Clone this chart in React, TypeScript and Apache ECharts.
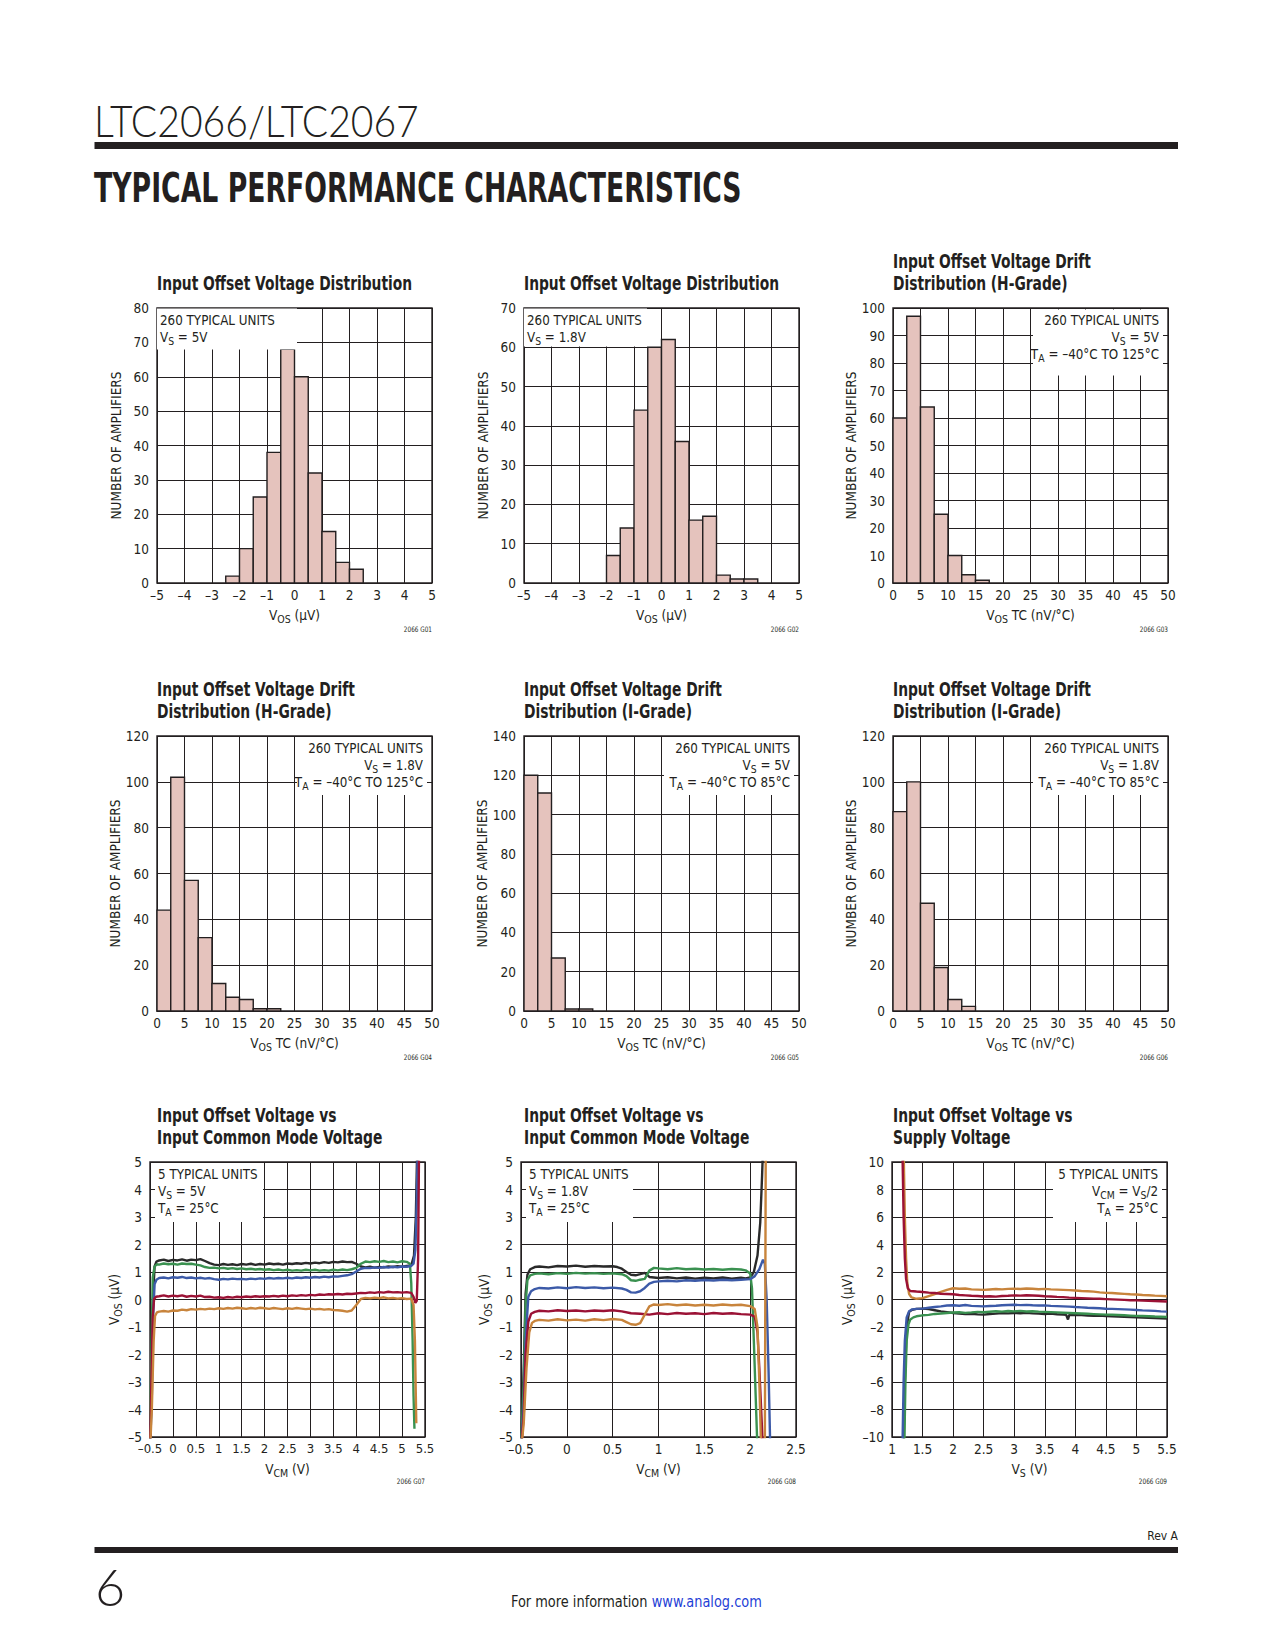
import React, { useEffect, useRef } from "react";
import * as echarts from "echarts";

// ---------------- data ----------------
// histogram bins (edges) and counts
const g01Edges = [-2.5, -2, -1.5, -1, -0.5, 0, 0.5, 1, 1.5, 2, 2.5];
const g01Counts = [2, 10, 25, 38, 68, 60, 32, 15, 6, 4];
const g02Edges = [-2, -1.5, -1, -0.5, 0, 0.5, 1, 1.5, 2, 2.5, 3, 3.5];
const g02Counts = [7, 14, 44, 60, 62, 36, 16, 17, 2, 1, 1];
const g03Edges = [0, 2.5, 5, 7.5, 10, 12.5, 15, 17.5];
const g03Counts = [60, 97, 64, 25, 10, 3, 1];
const g04Edges = [0, 2.5, 5, 7.5, 10, 12.5, 15, 17.5, 20, 22.5];
const g04Counts = [44, 102, 57, 32, 12, 6, 5, 1, 1];
const g05Edges = [0, 2.5, 5, 7.5, 10, 12.5];
const g05Counts = [120, 111, 27, 1, 1];
const g06Edges = [0, 2.5, 5, 7.5, 10, 12.5, 15];
const g06Counts = [87, 100, 47, 19, 5, 2];

// tick labels
const vosXTicks = [-5, -4, -3, -2, -1, 0, 1, 2, 3, 4, 5];
const g01YTicks = [0, 10, 20, 30, 40, 50, 60, 70, 80];
const g02YTicks = [0, 10, 20, 30, 40, 50, 60, 70];
const tcXTicks = [0, 5, 10, 15, 20, 25, 30, 35, 40, 45, 50];
const g03YTicks = [0, 10, 20, 30, 40, 50, 60, 70, 80, 90, 100];
const g04YTicks = [0, 20, 40, 60, 80, 100, 120];
const g05YTicks = [0, 20, 40, 60, 80, 100, 120, 140];
const g06YTicks = [0, 20, 40, 60, 80, 100, 120];
const vcm5XTicks = [-0.5, 0, 0.5, 1, 1.5, 2, 2.5, 3, 3.5, 4, 4.5, 5, 5.5];
const vcm18XTicks = [-0.5, 0, 0.5, 1, 1.5, 2, 2.5];
const vosYTicks = [-5, -4, -3, -2, -1, 0, 1, 2, 3, 4, 5];
const vsXTicks = [1, 1.5, 2, 2.5, 3, 3.5, 4, 4.5, 5, 5.5];
const g09YTicks = [-10, -8, -6, -4, -2, 0, 2, 4, 6, 8, 10];

// G07: VOS vs VCM, VS = 5V
const g07Black = [[-0.5,-5.5],[-0.46,-3],[-0.43,0.2],[-0.4,1.2],[-0.36,1.38],[-0.3,1.42],[-0.2,1.45],[-0.1,1.4],[0,1.44],[0.1,1.42],[0.2,1.46],[0.3,1.41],[0.4,1.45],[0.5,1.43],[0.6,1.47],[0.7,1.4],[0.8,1.32],[0.9,1.27],[1,1.25],[1.1,1.29],[1.2,1.26],[1.3,1.28],[1.4,1.25],[1.5,1.29],[1.6,1.27],[1.7,1.3],[1.8,1.26],[1.9,1.29],[2,1.27],[2.1,1.31],[2.2,1.28],[2.3,1.3],[2.4,1.27],[2.5,1.31],[2.6,1.29],[2.7,1.32],[2.8,1.3],[2.9,1.33],[3,1.31],[3.1,1.34],[3.2,1.32],[3.3,1.36],[3.4,1.33],[3.5,1.37],[3.6,1.35],[3.7,1.38],[3.8,1.36],[3.9,1.37],[4,1.3],[4.1,1.2],[4.2,1.17],[4.3,1.19],[4.4,1.16],[4.5,1.18],[4.6,1.17],[4.7,1.2],[4.8,1.18],[4.9,1.21],[5,1.19],[5.1,1.22],[5.2,1.24],[5.26,1.6],[5.3,3],[5.33,5.5]];
const g07Green = [[-0.5,-5.5],[-0.47,-2],[-0.44,0.8],[-0.4,1.2],[-0.35,1.28],[-0.3,1.27],[-0.2,1.31],[-0.1,1.28],[0,1.3],[0.1,1.27],[0.2,1.31],[0.3,1.29],[0.4,1.3],[0.5,1.27],[0.6,1.24],[0.7,1.18],[0.8,1.15],[0.9,1.16],[1,1.13],[1.1,1.15],[1.2,1.12],[1.3,1.14],[1.4,1.11],[1.5,1.13],[1.6,1.1],[1.7,1.12],[1.8,1.09],[1.9,1.11],[2,1.08],[2.1,1.1],[2.2,1.07],[2.3,1.09],[2.4,1.06],[2.5,1.08],[2.6,1.05],[2.7,1.07],[2.8,1.05],[2.9,1.08],[3,1.06],[3.1,1.08],[3.2,1.05],[3.3,1.07],[3.4,1.05],[3.5,1.08],[3.6,1.06],[3.7,1.09],[3.8,1.07],[3.9,1.1],[4,1.15],[4.1,1.3],[4.2,1.38],[4.3,1.36],[4.4,1.39],[4.5,1.37],[4.6,1.4],[4.7,1.36],[4.8,1.38],[4.9,1.35],[5,1.39],[5.1,1.37],[5.17,1.3],[5.2,0.6],[5.23,-1.5],[5.25,-3.5],[5.27,-4.7]];
const g07Blue = [[-0.5,-5.5],[-0.46,-3.5],[-0.43,-0.5],[-0.4,0.55],[-0.36,0.72],[-0.3,0.78],[-0.2,0.8],[-0.1,0.77],[0,0.81],[0.1,0.79],[0.2,0.82],[0.3,0.78],[0.4,0.8],[0.5,0.77],[0.6,0.79],[0.7,0.76],[0.8,0.78],[0.9,0.74],[1,0.72],[1.1,0.75],[1.2,0.73],[1.3,0.76],[1.4,0.74],[1.5,0.75],[1.6,0.73],[1.7,0.76],[1.8,0.74],[1.9,0.77],[2,0.75],[2.1,0.78],[2.2,0.76],[2.3,0.78],[2.4,0.77],[2.5,0.79],[2.6,0.77],[2.7,0.8],[2.8,0.78],[2.9,0.81],[3,0.79],[3.1,0.82],[3.2,0.8],[3.3,0.83],[3.4,0.81],[3.5,0.84],[3.6,0.83],[3.7,0.86],[3.8,0.88],[3.9,0.92],[4,1.02],[4.1,1.12],[4.2,1.15],[4.3,1.14],[4.4,1.17],[4.5,1.15],[4.6,1.18],[4.7,1.16],[4.8,1.19],[4.9,1.17],[5,1.2],[5.1,1.19],[5.2,1.22],[5.25,1.3],[5.29,1.8],[5.32,3.5],[5.34,5.5]];
const g07Red = [[-0.5,-5.5],[-0.47,-3],[-0.44,-0.6],[-0.41,0.02],[-0.37,0.1],[-0.3,0.12],[-0.2,0.15],[-0.1,0.11],[0,0.14],[0.1,0.12],[0.2,0.15],[0.3,0.1],[0.4,0.13],[0.5,0.11],[0.6,0.14],[0.7,0.09],[0.8,0.1],[0.9,0.07],[1,0.08],[1.1,0.06],[1.2,0.09],[1.3,0.07],[1.4,0.1],[1.5,0.08],[1.6,0.11],[1.7,0.09],[1.8,0.12],[1.9,0.1],[2,0.12],[2.1,0.11],[2.2,0.13],[2.3,0.11],[2.4,0.14],[2.5,0.12],[2.6,0.15],[2.7,0.13],[2.8,0.16],[2.9,0.14],[3,0.17],[3.1,0.15],[3.2,0.18],[3.3,0.17],[3.4,0.19],[3.5,0.18],[3.6,0.2],[3.7,0.18],[3.8,0.21],[3.9,0.2],[4,0.22],[4.1,0.24],[4.2,0.23],[4.3,0.26],[4.4,0.24],[4.5,0.27],[4.6,0.25],[4.7,0.28],[4.8,0.26],[4.9,0.27],[5,0.25],[5.1,0.27],[5.2,0.24],[5.25,0.1],[5.29,-0.12],[5.32,-0.05],[5.35,1.5],[5.37,5.5]];
const g07Orange = [[-0.5,-5.5],[-0.46,-4],[-0.42,-1.5],[-0.39,-0.6],[-0.35,-0.47],[-0.3,-0.44],[-0.2,-0.42],[-0.1,-0.44],[0,-0.4],[0.1,-0.41],[0.2,-0.37],[0.3,-0.39],[0.4,-0.35],[0.5,-0.37],[0.6,-0.34],[0.7,-0.36],[0.8,-0.33],[0.9,-0.35],[1,-0.32],[1.1,-0.34],[1.2,-0.31],[1.3,-0.33],[1.4,-0.3],[1.5,-0.32],[1.6,-0.34],[1.7,-0.31],[1.8,-0.33],[1.9,-0.3],[2,-0.32],[2.1,-0.34],[2.2,-0.31],[2.3,-0.33],[2.4,-0.35],[2.5,-0.32],[2.6,-0.34],[2.7,-0.31],[2.8,-0.33],[2.9,-0.35],[3,-0.33],[3.1,-0.36],[3.2,-0.34],[3.3,-0.37],[3.4,-0.35],[3.5,-0.38],[3.6,-0.39],[3.7,-0.41],[3.8,-0.44],[3.9,-0.4],[4,-0.2],[4.1,0.02],[4.2,0.06],[4.3,0.04],[4.4,0.07],[4.5,0.05],[4.6,0.08],[4.7,0.04],[4.8,0.06],[4.9,0.03],[5,0.05],[5.1,0.02],[5.2,0.03],[5.25,-0.2],[5.28,-1.5],[5.3,-3.5],[5.31,-4.5]];

// G08: VOS vs VCM, VS = 1.8V
const g08Black = [[-0.5,-5.5],[-0.47,-2.5],[-0.45,0.2],[-0.43,0.9],[-0.4,1.1],[-0.35,1.18],[-0.3,1.2],[-0.2,1.17],[-0.1,1.22],[0,1.2],[0.1,1.23],[0.2,1.19],[0.3,1.22],[0.4,1.2],[0.5,1.21],[0.55,1.18],[0.6,1.12],[0.65,1],[0.7,0.9],[0.75,0.88],[0.8,0.92],[0.85,0.97],[0.9,0.82],[0.95,0.8],[1,0.78],[1.1,0.81],[1.2,0.77],[1.3,0.8],[1.4,0.76],[1.5,0.79],[1.6,0.77],[1.7,0.8],[1.8,0.76],[1.9,0.79],[1.95,0.77],[2,0.8],[2.04,1],[2.08,1.6],[2.11,2.8],[2.13,4.5],[2.14,5.5]];
const g08Green = [[-0.5,-5.5],[-0.47,-3],[-0.45,-0.2],[-0.43,0.7],[-0.4,0.88],[-0.35,0.93],[-0.3,0.95],[-0.2,0.92],[-0.1,0.96],[0,0.93],[0.1,0.97],[0.2,0.94],[0.3,0.96],[0.4,0.93],[0.5,0.95],[0.6,0.92],[0.65,0.85],[0.7,0.7],[0.75,0.68],[0.8,0.72],[0.85,0.75],[0.9,1.05],[0.95,1.15],[1,1.13],[1.1,1.1],[1.2,1.14],[1.3,1.1],[1.4,1.12],[1.5,1.09],[1.6,1.11],[1.7,1.08],[1.8,1.11],[1.9,1.09],[1.95,1.06],[2,0.95],[2.02,0.4],[2.04,-1.5],[2.06,-3.5],[2.08,-5.5]];
const g08Blue = [[-0.5,-5.5],[-0.47,-3.8],[-0.45,-1.5],[-0.42,0.1],[-0.39,0.3],[-0.35,0.38],[-0.3,0.42],[-0.2,0.4],[-0.1,0.44],[0,0.41],[0.1,0.45],[0.2,0.42],[0.3,0.44],[0.4,0.41],[0.5,0.43],[0.6,0.4],[0.65,0.35],[0.7,0.26],[0.75,0.25],[0.8,0.3],[0.85,0.42],[0.9,0.58],[0.95,0.64],[1,0.66],[1.1,0.68],[1.2,0.66],[1.3,0.7],[1.4,0.68],[1.5,0.71],[1.6,0.69],[1.7,0.72],[1.8,0.7],[1.9,0.72],[2,0.74],[2.05,0.85],[2.1,1.1],[2.14,1.45],[2.16,1.3],[2.18,0],[2.2,-2.5],[2.22,-5.5]];
const g08Red = [[-0.5,-5.5],[-0.47,-4.2],[-0.45,-2],[-0.42,-0.8],[-0.39,-0.52],[-0.35,-0.45],[-0.3,-0.41],[-0.2,-0.43],[-0.1,-0.39],[0,-0.42],[0.1,-0.4],[0.2,-0.43],[0.3,-0.4],[0.4,-0.42],[0.5,-0.39],[0.6,-0.43],[0.7,-0.5],[0.8,-0.52],[0.9,-0.55],[1,-0.5],[1.1,-0.53],[1.2,-0.49],[1.3,-0.52],[1.4,-0.5],[1.5,-0.53],[1.6,-0.49],[1.7,-0.52],[1.8,-0.5],[1.9,-0.53],[2,-0.55],[2.05,-0.62],[2.08,-1.2],[2.1,-2.5],[2.12,-4],[2.14,-5.5]];
const g08Orange = [[-0.5,-5.5],[-0.47,-4.5],[-0.44,-2.5],[-0.41,-1.2],[-0.38,-0.85],[-0.35,-0.78],[-0.3,-0.74],[-0.2,-0.77],[-0.1,-0.72],[0,-0.76],[0.1,-0.73],[0.2,-0.77],[0.3,-0.72],[0.4,-0.75],[0.5,-0.71],[0.6,-0.74],[0.65,-0.82],[0.7,-0.9],[0.75,-0.92],[0.8,-0.86],[0.85,-0.55],[0.9,-0.25],[0.95,-0.18],[1,-0.2],[1.1,-0.17],[1.2,-0.21],[1.3,-0.18],[1.4,-0.22],[1.5,-0.19],[1.6,-0.22],[1.7,-0.18],[1.8,-0.21],[1.9,-0.19],[2,-0.24],[2.05,-0.35],[2.08,-1],[2.1,-3],[2.12,-5.5],[2.16,-5.5],[2.17,5.5]];

// G09: VOS vs supply voltage
const g09Black = [[1.19,-11],[1.21,-6],[1.24,-2],[1.28,-0.9],[1.33,-0.75],[1.4,-0.68],[1.5,-0.66],[1.6,-0.7],[1.7,-0.78],[1.8,-0.86],[1.9,-0.92],[2,-0.98],[2.1,-1.02],[2.2,-1.06],[2.3,-1.04],[2.4,-1.08],[2.5,-1.1],[2.6,-1.05],[2.7,-1.03],[2.8,-0.99],[2.9,-1.01],[3,-0.98],[3.1,-1],[3.2,-0.97],[3.3,-1.01],[3.4,-1.03],[3.5,-1.05],[3.6,-1.03],[3.7,-1.07],[3.8,-1.1],[3.85,-1.12],[3.88,-1.45],[3.9,-1.13],[4,-1.12],[4.1,-1.14],[4.2,-1.16],[4.3,-1.18],[4.4,-1.17],[4.5,-1.2],[4.6,-1.22],[4.7,-1.24],[4.8,-1.26],[4.9,-1.27],[5,-1.29],[5.1,-1.31],[5.2,-1.33],[5.3,-1.35],[5.4,-1.36],[5.5,-1.38]];
const g09Green = [[1.2,-11],[1.22,-6],[1.24,-3],[1.27,-1.8],[1.3,-1.45],[1.35,-1.3],[1.4,-1.22],[1.5,-1.15],[1.6,-1.12],[1.7,-1.05],[1.8,-1.02],[1.9,-0.98],[2,-0.95],[2.1,-0.93],[2.2,-0.97],[2.3,-0.94],[2.4,-0.9],[2.5,-0.93],[2.6,-0.89],[2.7,-0.85],[2.8,-0.88],[2.9,-0.84],[3,-0.86],[3.1,-0.83],[3.2,-0.87],[3.3,-0.85],[3.4,-0.88],[3.5,-0.9],[3.6,-0.92],[3.7,-0.94],[3.8,-0.96],[3.9,-0.98],[4,-1],[4.1,-1.02],[4.2,-1.04],[4.3,-1.06],[4.4,-1.08],[4.5,-1.1],[4.6,-1.11],[4.7,-1.13],[4.8,-1.15],[4.9,-1.17],[5,-1.19],[5.1,-1.2],[5.2,-1.22],[5.3,-1.24],[5.4,-1.25],[5.5,-1.27]];
const g09Blue = [[1.17,-11],[1.19,-6],[1.21,-3],[1.24,-1.3],[1.28,-0.85],[1.33,-0.72],[1.4,-0.68],[1.5,-0.66],[1.6,-0.6],[1.7,-0.55],[1.8,-0.5],[1.9,-0.44],[2,-0.42],[2.1,-0.45],[2.2,-0.4],[2.3,-0.46],[2.4,-0.48],[2.5,-0.5],[2.6,-0.47],[2.7,-0.45],[2.8,-0.42],[2.9,-0.4],[3,-0.38],[3.1,-0.41],[3.2,-0.39],[3.3,-0.42],[3.4,-0.44],[3.5,-0.43],[3.6,-0.46],[3.7,-0.48],[3.8,-0.5],[3.9,-0.52],[4,-0.55],[4.1,-0.57],[4.2,-0.6],[4.3,-0.62],[4.4,-0.64],[4.5,-0.67],[4.6,-0.68],[4.7,-0.7],[4.8,-0.72],[4.9,-0.74],[5,-0.76],[5.1,-0.79],[5.2,-0.81],[5.3,-0.83],[5.4,-0.86],[5.5,-0.88]];
const g09Red = [[1.17,11],[1.19,6],[1.21,3],[1.23,1.5],[1.26,0.8],[1.3,0.62],[1.4,0.58],[1.5,0.55],[1.6,0.5],[1.7,0.47],[1.8,0.42],[1.9,0.4],[2,0.38],[2.1,0.33],[2.2,0.3],[2.3,0.27],[2.4,0.25],[2.5,0.22],[2.6,0.24],[2.7,0.21],[2.8,0.25],[2.9,0.27],[3,0.3],[3.1,0.28],[3.2,0.31],[3.3,0.29],[3.4,0.27],[3.5,0.24],[3.6,0.22],[3.7,0.19],[3.8,0.17],[3.9,0.14],[4,0.12],[4.1,0.1],[4.2,0.08],[4.3,0.06],[4.4,0.05],[4.5,0.03],[4.6,0.01],[4.7,-0.01],[4.8,-0.03],[4.9,-0.05],[5,-0.06],[5.1,-0.08],[5.2,-0.1],[5.3,-0.12],[5.4,-0.13],[5.5,-0.15]];
const g09Orange = [[1.19,11],[1.21,6],[1.23,3],[1.25,1.2],[1.28,0.4],[1.32,0.15],[1.4,0.05],[1.5,0.1],[1.6,0.25],[1.7,0.4],[1.8,0.55],[1.9,0.7],[2,0.82],[2.1,0.78],[2.2,0.8],[2.3,0.74],[2.4,0.72],[2.5,0.7],[2.6,0.73],[2.7,0.76],[2.8,0.74],[2.9,0.77],[3,0.79],[3.1,0.76],[3.2,0.8],[3.3,0.78],[3.4,0.75],[3.5,0.77],[3.6,0.74],[3.7,0.72],[3.8,0.7],[3.9,0.68],[4,0.65],[4.1,0.62],[4.2,0.6],[4.3,0.57],[4.4,0.52],[4.5,0.48],[4.6,0.47],[4.7,0.44],[4.8,0.41],[4.9,0.38],[5,0.36],[5.1,0.33],[5.2,0.31],[5.3,0.28],[5.4,0.26],[5.5,0.24]];

// ---------------- styling ----------------
const INK = "#231f20";
const BAR_FILL = "#e5c3bd";
const C_BLACK = "#2a2a2a";
const C_GREEN = "#3a9150";
const C_BLUE = "#3c5aa8";
const C_RED = "#9b1235";
const C_ORANGE = "#c8843c";
const FONT = "'Liberation Sans Narrow','DejaVu Sans Condensed','Roboto Condensed',Roboto,'Liberation Sans',sans-serif";

const PW = 275;
const PH = 275;
const plots = [
  { left: 157, top: 308 }, { left: 524, top: 308 }, { left: 893, top: 308 },
  { left: 157, top: 736 }, { left: 524, top: 736 }, { left: 893, top: 736 },
  { left: 150, top: 1162 }, { left: 521, top: 1162 }, { left: 892, top: 1162 },
];
const titleX = [157, 524, 893];

let measureCtx: any = null;
function textWidth(text: string, font: string) {
  if (!measureCtx) measureCtx = document.createElement("canvas").getContext("2d");
  measureCtx.font = font;
  return measureCtx.measureText(text).width || 1;
}

const dash = (v: number) => String(Math.round(v * 1000) / 1000).replace("-", "\u2013");

function axisFromTicks(t: number[]) {
  return { min: t[0], max: t[t.length - 1], interval: t[1] - t[0] };
}

const nameRich = {
  n: { fontSize: 13.5, fontFamily: FONT, color: INK, lineHeight: 16 },
  s: { fontSize: 10.5, fontFamily: FONT, color: INK, lineHeight: 10, padding: [8, 0, 0, 0] },
};

function makeX(i: number, ticks: number[], name: string, fs = 13.5) {
  return {
    type: "value", gridIndex: i, ...axisFromTicks(ticks),
    axisLine: { show: false }, axisTick: { show: false },
    splitLine: { show: true, lineStyle: { color: INK, width: 1 } },
    axisLabel: { formatter: dash, fontSize: fs, color: INK, fontFamily: FONT, margin: 5, showMinLabel: true, showMaxLabel: true },
    name, nameLocation: "middle", nameGap: 24,
    nameTextStyle: { fontSize: 13.5, color: INK, fontFamily: FONT, rich: nameRich },
  };
}
function makeY(i: number, ticks: number[], name: string, gap: number) {
  return {
    type: "value", gridIndex: i, ...axisFromTicks(ticks),
    axisLine: { show: false }, axisTick: { show: false },
    splitLine: { show: true, lineStyle: { color: INK, width: 1 } },
    axisLabel: { formatter: dash, fontSize: 13.5, color: INK, fontFamily: FONT, margin: 8, showMinLabel: true, showMaxLabel: true },
    name, nameLocation: "middle", nameGap: gap,
    nameTextStyle: { fontSize: 13.5, color: INK, fontFamily: FONT, rich: nameRich },
  };
}

const renderBar = (params: any, api: any) => {
  const a = api.coord([api.value(0), api.value(2)]);
  const b = api.coord([api.value(1), 0]);
  return {
    type: "rect",
    shape: { x: a[0], y: a[1], width: b[0] - a[0], height: b[1] - a[1] },
    style: { fill: BAR_FILL, stroke: INK, lineWidth: 1.4 },
  };
};

function histSeries(i: number, edges: number[], counts: number[]) {
  return {
    type: "custom", xAxisIndex: i, yAxisIndex: i, z: 3,
    renderItem: renderBar,
    encode: { x: [0, 1], y: 2 },
    data: counts.map((c, k) => [edges[k], edges[k + 1], c]),
  };
}
function lineSeries(i: number, data: number[][], color: string) {
  return {
    type: "line", xAxisIndex: i, yAxisIndex: i, z: 3, data,
    showSymbol: false, symbol: "none", clip: true,
    lineStyle: { color, width: 2.4 }, itemStyle: { color },
  };
}

function buildOption() {
  const sTitle = 198 / textWidth("Input Offset Voltage Drift", `bold 19px ${FONT}`);
  const sNote = 115 / textWidth("260 TYPICAL UNITS", `13.5px ${FONT}`);
  const sHead1 = 325 / textWidth("LTC2066/LTC2067", `300 44px Lato`);
  const sHead2 = 648 / textWidth("TYPICAL PERFORMANCE CHARACTERISTICS", `bold 40px 'DejaVu Sans'`);
  const sFoot = 251 / textWidth("For more information www.analog.com", `15.5px ${FONT}`);

  const noteRich = {
    n: { fontSize: 13.5, fontFamily: FONT, fill: INK, color: INK, lineHeight: 16 },
    s: { fontSize: 10.5, fontFamily: FONT, fill: INK, color: INK, lineHeight: 10, padding: [8, 0, 0, 0] },
  };

  const g: any[] = [];
  const text = (x: number, y: number, t: string, o: any = {}) => {
    g.push({
      type: "text", x, y, scaleX: o.scaleX ?? 1, z: 30,
      style: {
        text: t, fill: o.fill ?? INK, fontSize: o.fontSize ?? 13, fontFamily: o.fontFamily ?? FONT,
        fontWeight: o.fontWeight ?? "normal", align: o.align ?? "left", verticalAlign: "middle",
        rich: o.rich,
      },
    });
  };
  const box = (x: number, y: number, w: number, h: number) => {
    g.push({ type: "rect", z: 29, shape: { x, y, width: w, height: h }, style: { fill: "#ffffff" } });
  };

  // header
  text(94, 120, "LTC2066/LTC2067", { fontFamily: "Lato", fontWeight: 300, fontSize: 44, scaleX: sHead1 });
  g.push({ type: "rect", z: 30, shape: { x: 94.5, y: 142, width: 1083.5, height: 7 }, style: { fill: INK } });
  text(94, 188, "TYPICAL PERFORMANCE CHARACTERISTICS", { fontFamily: "'DejaVu Sans'", fontWeight: "bold", fontSize: 40, scaleX: sHead2 });

  // footer
  text(1178, 1536, "Rev A", { fontSize: 12, align: "right" });
  g.push({ type: "rect", z: 30, shape: { x: 94.5, y: 1547, width: 1083.5, height: 6 }, style: { fill: INK } });
  text(95, 1586, "6", { fontFamily: "Lato", fontWeight: 300, fontSize: 52 });
  text(511, 1602, "{a|For more information }{b|www.analog.com}", {
    scaleX: sFoot,
    rich: {
      a: { fontSize: 15.5, fontFamily: FONT, fill: INK, color: INK },
      b: { fontSize: 15.5, fontFamily: FONT, fill: "#1f3fd6", color: "#1f3fd6" },
    },
  });

  // chart titles
  const titles = [
    ["Input Offset Voltage Distribution"], ["Input Offset Voltage Distribution"], ["Input Offset Voltage Drift", "Distribution (H-Grade)"],
    ["Input Offset Voltage Drift", "Distribution (H-Grade)"], ["Input Offset Voltage Drift", "Distribution (I-Grade)"], ["Input Offset Voltage Drift", "Distribution (I-Grade)"],
    ["Input Offset Voltage vs", "Input Common Mode Voltage"], ["Input Offset Voltage vs", "Input Common Mode Voltage"], ["Input Offset Voltage vs", "Supply Voltage"],
  ];
  titles.forEach((lines, i) => {
    const rowTop = plots[i].top;
    const lastY = rowTop - 25;
    lines.forEach((ln, k) => {
      text(titleX[i % 3], lastY - (lines.length - 1 - k) * 22, ln, { fontWeight: "bold", fontSize: 19, scaleX: sTitle });
    });
  });

  // annotation boxes
  const sub = (a: string, b: string, c: string) => `{n|${a}}{s|${b}}{n|${c}}`;
  const notes: any[] = [
    { box: [157, 308.5, 140, 41], align: "left", x: 160, lines: ["260 TYPICAL UNITS", sub("V", "S", " = 5V")] },
    { box: [524, 308.5, 123, 38], align: "left", x: 527, lines: ["260 TYPICAL UNITS", sub("V", "S", " = 1.8V")] },
    { box: [1033, 309.5, 130, 66], align: "right", x: 1159, lines: ["260 TYPICAL UNITS", sub("V", "S", " = 5V"), sub("T", "A", " = \u201340\u00b0C TO 125\u00b0C")] },
    { box: [297, 737, 130, 58], align: "right", x: 423, lines: ["260 TYPICAL UNITS", sub("V", "S", " = 1.8V"), sub("T", "A", " = \u201340\u00b0C TO 125\u00b0C")] },
    { box: [664, 737, 130, 58], align: "right", x: 790, lines: ["260 TYPICAL UNITS", sub("V", "S", " = 5V"), sub("T", "A", " = \u201340\u00b0C TO 85\u00b0C")] },
    { box: [1033, 737, 130, 58], align: "right", x: 1159, lines: ["260 TYPICAL UNITS", sub("V", "S", " = 1.8V"), sub("T", "A", " = \u201340\u00b0C TO 85\u00b0C")] },
    { box: [155, 1163, 108, 59], align: "left", x: 158, lines: ["5 TYPICAL UNITS", sub("V", "S", " = 5V"), sub("T", "A", " = 25\u00b0C")] },
    { box: [526, 1163, 107, 59], align: "left", x: 529, lines: ["5 TYPICAL UNITS", sub("V", "S", " = 1.8V"), sub("T", "A", " = 25\u00b0C")] },
    { box: [1053, 1163, 109, 59], align: "right", x: 1158, lines: ["5 TYPICAL UNITS", "{n|V}{s|CM}{n| = V}{s|S}{n|/2}", sub("T", "A", " = 25\u00b0C")] },
  ];
  notes.forEach((nt, i) => {
    box(nt.box[0], nt.box[1], nt.box[2], nt.box[3]);
    const top = plots[i].top;
    nt.lines.forEach((ln: string, k: number) => {
      text(nt.x, top + 12 + k * 17, ln, { align: nt.align, fontSize: 13.5, scaleX: sNote, rich: noteRich });
    });
  });

  // figure codes
  const codes = ["2066 G01", "2066 G02", "2066 G03", "2066 G04", "2066 G05", "2066 G06", "2066 G07", "2066 G08", "2066 G09"];
  codes.forEach((c, i) => {
    const p = plots[i];
    text(p.left + PW, p.top + PH + (i >= 6 ? 45 : 47), c, { fontSize: 7.5, align: "right", scaleX: 0.85 });
  });

  const grids = plots.map((p) => ({
    left: p.left, top: p.top, width: PW, height: PH,
    show: true, borderColor: INK, borderWidth: 1.4, containLabel: false, outerBoundsMode: "none",
  }));

  const vosName = "{n|V}{s|OS}{n| (\u03bcV)}";
  const tcName = "{n|V}{s|OS}{n| TC (nV/\u00b0C)}";
  const vcmName = "{n|V}{s|CM}{n| (V)}";
  const vsName = "{n|V}{s|S}{n| (V)}";
  const amp = "NUMBER OF AMPLIFIERS";

  const xAxis = [
    makeX(0, vosXTicks, vosName), makeX(1, vosXTicks, vosName), makeX(2, tcXTicks, tcName),
    makeX(3, tcXTicks, tcName), makeX(4, tcXTicks, tcName), makeX(5, tcXTicks, tcName),
    makeX(6, vcm5XTicks, vcmName, 13), makeX(7, vcm18XTicks, vcmName), makeX(8, vsXTicks, vsName),
  ];
  const yAxis = [
    makeY(0, g01YTicks, amp, 34), makeY(1, g02YTicks, amp, 34), makeY(2, g03YTicks, amp, 34),
    makeY(3, g04YTicks, amp, 34), makeY(4, g05YTicks, amp, 34), makeY(5, g06YTicks, amp, 34),
    makeY(6, vosYTicks, vosName, 28), makeY(7, vosYTicks, vosName, 29), makeY(8, g09YTicks, vosName, 37),
  ];

  const series = [
    histSeries(0, g01Edges, g01Counts), histSeries(1, g02Edges, g02Counts), histSeries(2, g03Edges, g03Counts),
    histSeries(3, g04Edges, g04Counts), histSeries(4, g05Edges, g05Counts), histSeries(5, g06Edges, g06Counts),
    lineSeries(6, g07Black, C_BLACK), lineSeries(6, g07Green, C_GREEN), lineSeries(6, g07Blue, C_BLUE), lineSeries(6, g07Red, C_RED), lineSeries(6, g07Orange, C_ORANGE),
    lineSeries(7, g08Black, C_BLACK), lineSeries(7, g08Green, C_GREEN), lineSeries(7, g08Blue, C_BLUE), lineSeries(7, g08Red, C_RED), lineSeries(7, g08Orange, C_ORANGE),
    lineSeries(8, g09Black, C_BLACK), lineSeries(8, g09Green, C_GREEN), lineSeries(8, g09Blue, C_BLUE), lineSeries(8, g09Orange, C_ORANGE), lineSeries(8, g09Red, C_RED),
  ];

  return {
    animation: false,
    backgroundColor: "#ffffff",
    textStyle: { fontFamily: FONT, color: INK },
    grid: grids,
    xAxis,
    yAxis,
    series,
    graphic: { elements: g },
  };
}

export default function App() {
  const ref = useRef<HTMLDivElement>(null);
  useEffect(() => {
    if (!ref.current) return;
    const chart = echarts.init(ref.current, null, { renderer: "svg" });
    chart.setOption(buildOption() as any);
    return () => chart.dispose();
  }, []);
  return (
    <div
      ref={ref}
      style={{ position: "absolute", left: 0, top: 0, width: 1275, height: 1650, background: "#ffffff" }}
    />
  );
}
